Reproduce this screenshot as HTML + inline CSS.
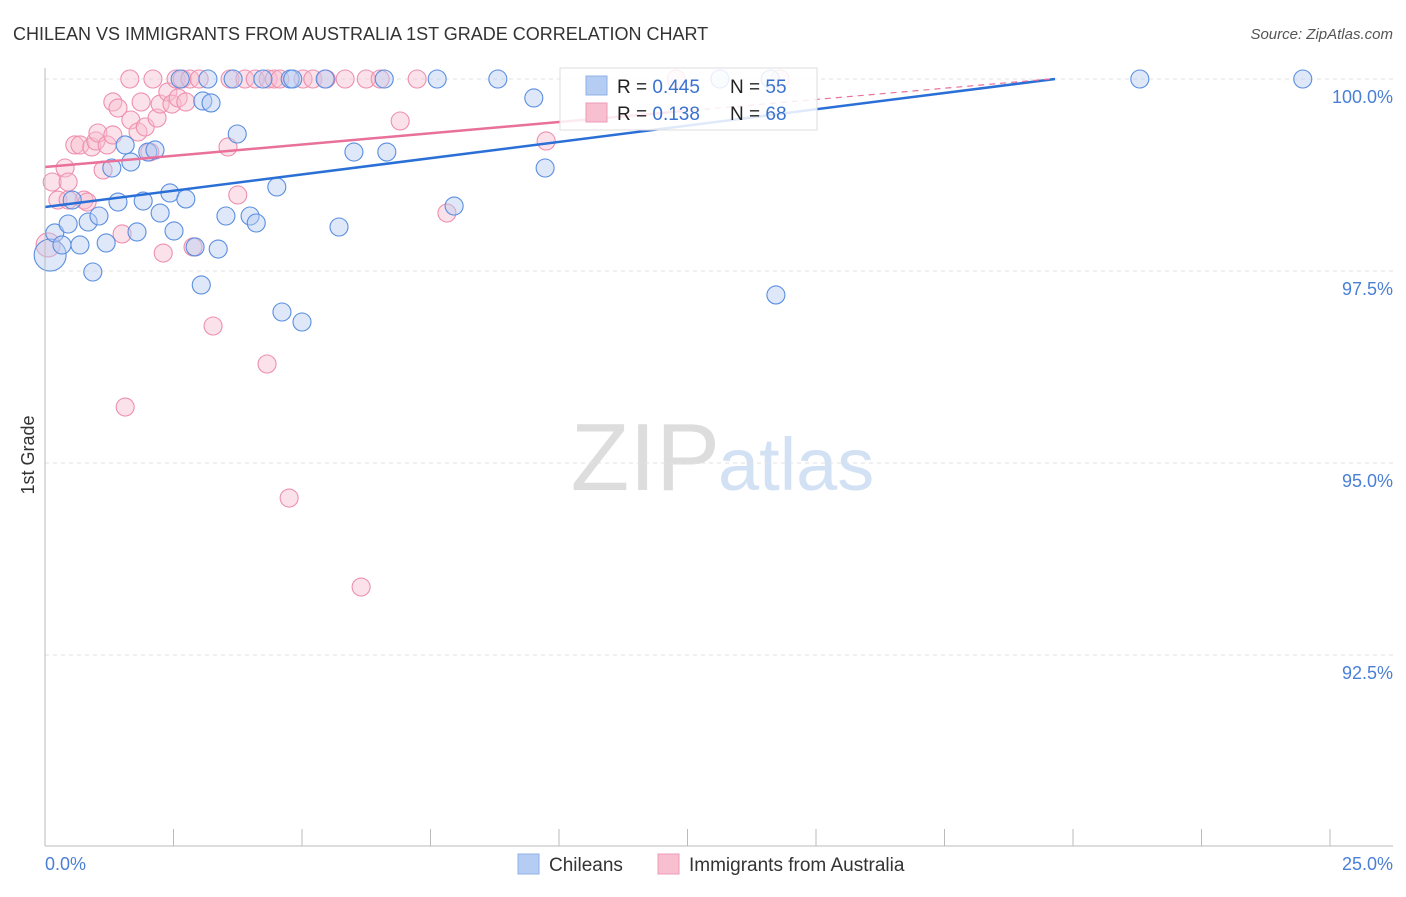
<!DOCTYPE html>
<html><head><meta charset="utf-8"><style>
body{margin:0;background:#fff;font-family:"Liberation Sans",sans-serif;}
svg text{font-family:"Liberation Sans",sans-serif;}
</style></head><body>
<svg id="chart" width="1406" height="892" xmlns="http://www.w3.org/2000/svg">
<text x="13" y="40" font-size="18" fill="#333">CHILEAN VS IMMIGRANTS FROM AUSTRALIA 1ST GRADE CORRELATION CHART</text>
<text x="1393" y="39" font-size="15" fill="#555" text-anchor="end" font-style="italic">Source: ZipAtlas.com</text>
<text x="720" y="490" font-size="96" text-anchor="end" fill="#ddd" font-family="Liberation Serif">ZIP</text>
<text x="718" y="490" font-size="74" fill="#d3e1f4">atlas</text>
<text transform="translate(34,455) rotate(-90)" font-size="18" fill="#333" text-anchor="middle">1st Grade</text>
<g id="grid"></g><g id="pts"></g><g id="lines"></g>
<line x1="45" y1="68" x2="45" y2="846" stroke="#bbb"/>
<line x1="45" y1="846" x2="1393" y2="846" stroke="#bbb"/>
<g>
<rect x="560" y="68" width="257" height="62" fill="#fff" fill-opacity="0.85" stroke="#ddd"/>
<rect x="586" y="76" width="21" height="19" fill="#b5cdf2" stroke="#8fb0e6"/>
<rect x="586" y="103" width="21" height="19" fill="#f7bfd0" stroke="#ee9bb5"/>
<text x="617" y="93" font-size="19" fill="#222">R = <tspan fill="#3a72d0">0.445</tspan></text>
<text x="730" y="93" font-size="19" fill="#222">N = <tspan fill="#3a72d0">55</tspan></text>
<text x="617" y="120" font-size="19" fill="#222">R =  <tspan fill="#3a72d0">0.138</tspan></text>
<text x="730" y="120" font-size="19" fill="#222">N = <tspan fill="#3a72d0">68</tspan></text>
</g>
<text x="45" y="870" font-size="18" fill="#4a7fd6">0.0%</text>
<text x="1393" y="870" font-size="18" fill="#4a7fd6" text-anchor="end">25.0%</text>
<g>
<rect x="518" y="854" width="21" height="20" fill="#b5cdf2" stroke="#8fb0e6"/>
<text x="549" y="871" font-size="19" fill="#333">Chileans</text>
<rect x="658" y="854" width="21" height="20" fill="#f7bfd0" stroke="#ee9bb5"/>
<text x="689" y="871" font-size="19" fill="#333">Immigrants from Australia</text>
</g>
</svg>
<script>
const yTicks=[100,97.5,95,92.5];
const yTickLabels=["100.0%","97.5%","95.0%","92.5%"];
const xTicks=[0,2.5,5,7.5,10,12.5,15,17.5,20,22.5,25];
const bluePx=[[50,255],[55,233],[62,245],[68,224],[72,200],[80,245],[88,222],[93,272],[99,216],[106,243],[112,168],[118,202],[125,145],[131,162],[137,232],[143,201],[148,152],[155,150],[160,213],[170,193],[174,231],[186,199],[195,247],[201,285],[203,101],[211,103],[218,249],[226,216],[233,79],[237,134],[250,216],[256,223],[263,79],[277,187],[282,312],[290,79],[293,79],[302,322],[325,79],[339,227],[354,152],[384,79],[387,152],[437,79],[454,206],[498,79],[534,98],[545,168],[720,79],[770,79],[776,295],[1140,79],[1303,79],[180,79],[208,79]];
const pinkPx=[[52,182],[58,200],[65,168],[68,182],[75,145],[80,145],[84,200],[87,202],[92,147],[96,141],[98,133],[103,170],[107,145],[113,102],[113,135],[118,108],[122,234],[125,407],[130,79],[131,120],[138,132],[141,102],[145,127],[153,79],[157,118],[160,104],[163,253],[168,92],[172,104],[176,79],[178,98],[182,79],[186,102],[190,79],[193,247],[199,79],[213,326],[228,147],[230,79],[238,195],[245,79],[255,79],[267,364],[268,79],[274,79],[280,79],[289,498],[303,79],[313,79],[326,79],[345,79],[361,587],[366,79],[380,79],[400,121],[417,79],[447,213],[546,141],[676,79],[780,79],[68,200],[150,152],[48,245]];
const blueX=bluePx.map(p=>+((p[0]-45)/1285*25).toFixed(2));
const blueY=bluePx.map(p=>+(100-(p[1]-79)/192*2.5).toFixed(3));
const pinkX=pinkPx.map(p=>+((p[0]-45)/1285*25).toFixed(2));
const pinkY=pinkPx.map(p=>+(100-(p[1]-79)/192*2.5).toFixed(3));
const blueTrend=[98.333,100.0,19.65];
const pinkTrend=[98.854,100.0,19.55];
const sx=v=>45+v/25*1285, sy=v=>79+(100-v)/2.5*192;
const NS="http://www.w3.org/2000/svg";
function mk(tag,attrs,parent){const e=document.createElementNS(NS,tag);for(const k in attrs)e.setAttribute(k,attrs[k]);parent.appendChild(e);return e;}
const grid=document.getElementById('grid');
yTicks.forEach((t,i)=>{
 const l=mk('line',{x1:45,x2:1393,y1:sy(t),y2:sy(t),stroke:'#e2e2e2','stroke-dasharray':'4,4'},grid);
 
 
 const tx=mk('text',{x:1393,y:sy(t)+24,'font-size':18,fill:'#4a7fd6','text-anchor':'end'},grid);
 tx.textContent=yTickLabels[i];
 
 
});
xTicks.forEach(t=>{
 const l=mk('line',{x1:sx(t),x2:sx(t),y1:829,y2:846,stroke:'#bbb'},grid);
 
 
});
const pts=document.getElementById('pts');
function draw(xs,ys,fill,stroke,name,bigIdx,bigR){xs.forEach((x,i)=>{
 const r=(i===bigIdx)?bigR:9;
 const c=mk('circle',{cx:sx(x),cy:sy(ys[i]),r:r,fill:fill,'fill-opacity':0.45,stroke:stroke,'stroke-width':1.1},pts);
 
 
});}
draw(pinkX,pinkY,'#f7bfd0','#ee8fae','australia-point',pinkX.length-1,12);
draw(blueX,blueY,'#b5cdf2','#5a8ee0','chilean-point',0,16);
const lines=document.getElementById('lines');
function trend(tr,color,name,solidEnd){
 const [a,b,xe]=tr, f=x=>a+(b-a)*x/xe;
 const l=mk('line',{x1:sx(0),y1:sy(f(0)),x2:sx(solidEnd),y2:sy(f(solidEnd)),stroke:color,'stroke-width':2.5},lines);
 
 
 if(solidEnd<xe){const d=mk('line',{x1:sx(solidEnd),y1:sy(f(solidEnd)),x2:sx(xe),y2:sy(b),stroke:color,'stroke-width':1.2,'stroke-dasharray':'6,5'},lines);
 
 }
}
trend(blueTrend,'#2a6fd6','chilean-trendline',blueTrend[2]);
trend(pinkTrend,'#e8709a','australia-trendline',12.4);
</script>
</body></html>
